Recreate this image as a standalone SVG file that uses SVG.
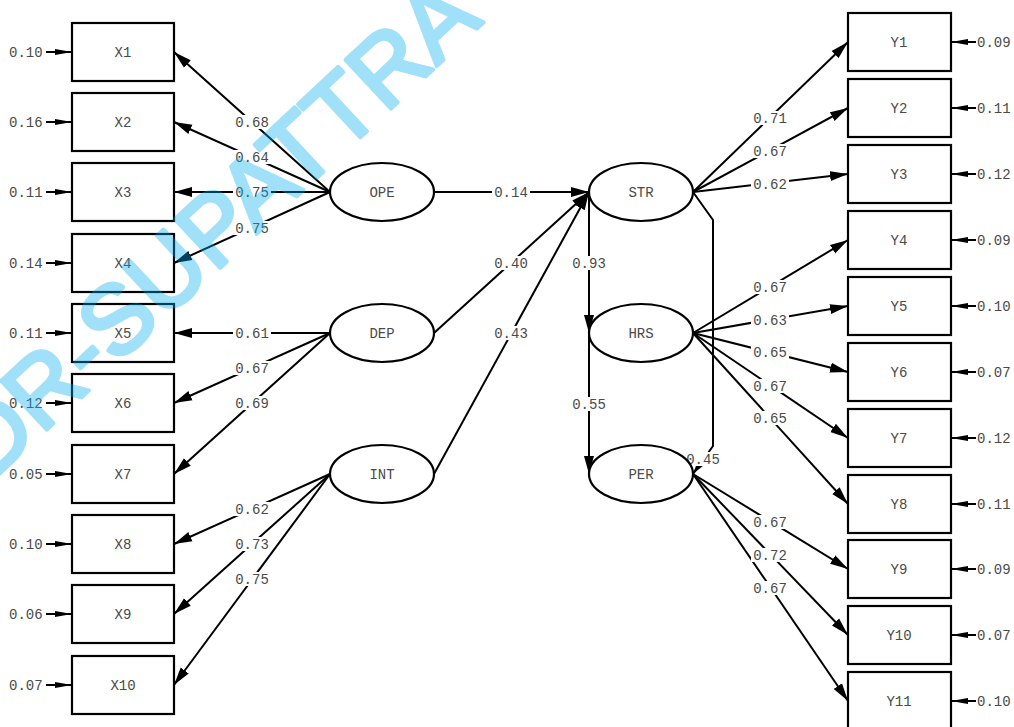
<svg xmlns="http://www.w3.org/2000/svg" width="1014" height="727" viewBox="0 0 1014 727">
  <style>
    .box { fill: #fff; stroke: #000; stroke-width: 2.2; }
    .lat { fill: #fff; stroke: #000; stroke-width: 2.2; }
    .name { font-family: "Liberation Mono", "DejaVu Sans Mono", monospace; font-size: 14px; fill: #4a4a4a; text-anchor: middle; }
    .val { font-family: "Liberation Mono", "DejaVu Sans Mono", monospace; font-size: 14px; fill: #4a4a4a; }
    .lbl { font-family: "Liberation Mono", "DejaVu Sans Mono", monospace; font-size: 14px; fill: #4a4a4a; text-anchor: middle; }
    .lbg { fill: #fff; }
    .path { fill: none; stroke: #000; stroke-width: 2; marker-end: url(#ah); }
    .err { fill: none; stroke: #000; stroke-width: 2; marker-end: url(#ae); }
    .wm { font-family: "Liberation Sans", Arial, sans-serif; font-size: 97px; fill: #00aeef; stroke: #00aeef; stroke-width: 4; stroke-linejoin: round; }
  </style>
  <defs>
    <marker id="ah" markerUnits="userSpaceOnUse" markerWidth="19" markerHeight="11" refX="18" refY="5.5" orient="auto">
      <path d="M0,0.5 L18,5.5 L0,10.5 z" fill="#000"/>
    </marker>
    <marker id="ae" markerUnits="userSpaceOnUse" markerWidth="18" markerHeight="8" refX="17" refY="4" orient="auto">
      <path d="M0,1 L17,4 L0,7 z" fill="#000"/>
    </marker>
  </defs>
  <rect width="1014" height="727" fill="#fff"/>

  <!-- paths and loadings -->
  <g id="connectors">
    <!-- OPE loadings -->
    <path class="path" d="M330,192 L174,52"/>
    <path class="path" d="M330,192 L174,122"/>
    <path class="path" d="M330,192 L174,192"/>
    <path class="path" d="M330,192 L174,263"/>
    <!-- DEP loadings -->
    <path class="path" d="M330,333 L174,333"/>
    <path class="path" d="M330,333 L174,403"/>
    <path class="path" d="M330,333 L174,474"/>
    <!-- INT loadings -->
    <path class="path" d="M330,474 L174,544"/>
    <path class="path" d="M330,474 L174,614"/>
    <path class="path" d="M330,474 L174,685"/>
    <!-- structural paths -->
    <path class="path" d="M434,192 L589,192"/>
    <path class="path" d="M434,333 L589,192"/>
    <path class="path" d="M434,474 L589,192"/>
    <path class="path" d="M589,192 L589,333"/>
    <path class="path" d="M589,333 L589,474"/>
    <path class="path" d="M693,192 L713,220 L713,446 L693,474"/>
    <!-- STR loadings -->
    <path class="path" d="M693,192 L848,42"/>
    <path class="path" d="M693,192 L848,108"/>
    <path class="path" d="M693,192 L848,174"/>
    <!-- HRS loadings -->
    <path class="path" d="M693,333 L848,240"/>
    <path class="path" d="M693,333 L848,306"/>
    <path class="path" d="M693,333 L848,372"/>
    <path class="path" d="M693,333 L848,438"/>
    <path class="path" d="M693,333 L848,504"/>
    <!-- PER loadings -->
    <path class="path" d="M693,474 L848,569"/>
    <path class="path" d="M693,474 L848,635"/>
    <path class="path" d="M693,474 L848,701"/>
    <!-- error terms, left -->
    <path class="err" d="M46,52 L72,52"/>
    <path class="err" d="M46,122 L72,122"/>
    <path class="err" d="M46,192 L72,192"/>
    <path class="err" d="M46,263 L72,263"/>
    <path class="err" d="M46,333 L72,333"/>
    <path class="err" d="M46,403 L72,403"/>
    <path class="err" d="M46,474 L72,474"/>
    <path class="err" d="M46,544 L72,544"/>
    <path class="err" d="M46,614 L72,614"/>
    <path class="err" d="M46,685 L72,685"/>
    <!-- error terms, right -->
    <path class="err" d="M976,42 L951,42"/>
    <path class="err" d="M976,108 L951,108"/>
    <path class="err" d="M976,174 L951,174"/>
    <path class="err" d="M976,240 L951,240"/>
    <path class="err" d="M976,306 L951,306"/>
    <path class="err" d="M976,372 L951,372"/>
    <path class="err" d="M976,438 L951,438"/>
    <path class="err" d="M976,504 L951,504"/>
    <path class="err" d="M976,569 L951,569"/>
    <path class="err" d="M976,635 L951,635"/>
    <path class="err" d="M976,701 L951,701"/>
  </g>

  <!-- coefficient labels, placed at each path's midpoint -->
  <g id="labels">
    <g class="lbg">
      <rect x="233" y="115" width="38" height="14"/>
      <rect x="233" y="150" width="38" height="14"/>
      <rect x="233" y="185" width="38" height="14"/>
      <rect x="233" y="221" width="38" height="14"/>
      <rect x="233" y="326" width="38" height="14"/>
      <rect x="233" y="361" width="38" height="14"/>
      <rect x="233" y="396" width="38" height="14"/>
      <rect x="233" y="502" width="38" height="14"/>
      <rect x="233" y="537" width="38" height="14"/>
      <rect x="233" y="572" width="38" height="14"/>
      <rect x="492" y="185" width="38" height="14"/>
      <rect x="492" y="256" width="38" height="14"/>
      <rect x="492" y="326" width="38" height="14"/>
      <rect x="570" y="256" width="38" height="14"/>
      <rect x="570" y="397" width="38" height="14"/>
      <rect x="684" y="452" width="38" height="14"/>
      <rect x="751" y="111" width="38" height="14"/>
      <rect x="751" y="144" width="38" height="14"/>
      <rect x="751" y="177" width="38" height="14"/>
      <rect x="751" y="280" width="38" height="14"/>
      <rect x="751" y="313" width="38" height="14"/>
      <rect x="751" y="345" width="38" height="14"/>
      <rect x="751" y="379" width="38" height="14"/>
      <rect x="751" y="411" width="38" height="14"/>
      <rect x="751" y="515" width="38" height="14"/>
      <rect x="751" y="548" width="38" height="14"/>
      <rect x="751" y="581" width="38" height="14"/>
    </g>
    <text class="lbl" x="252" y="127">0.68</text>
    <text class="lbl" x="252" y="162">0.64</text>
    <text class="lbl" x="252" y="197">0.75</text>
    <text class="lbl" x="252" y="233">0.75</text>
    <text class="lbl" x="252" y="338">0.61</text>
    <text class="lbl" x="252" y="373">0.67</text>
    <text class="lbl" x="252" y="408">0.69</text>
    <text class="lbl" x="252" y="514">0.62</text>
    <text class="lbl" x="252" y="549">0.73</text>
    <text class="lbl" x="252" y="584">0.75</text>
    <text class="lbl" x="511" y="197">0.14</text>
    <text class="lbl" x="511" y="268">0.40</text>
    <text class="lbl" x="511" y="338">0.43</text>
    <text class="lbl" x="589" y="268">0.93</text>
    <text class="lbl" x="589" y="409">0.55</text>
    <text class="lbl" x="703" y="464">0.45</text>
    <text class="lbl" x="770" y="123">0.71</text>
    <text class="lbl" x="770" y="156">0.67</text>
    <text class="lbl" x="770" y="189">0.62</text>
    <text class="lbl" x="770" y="292">0.67</text>
    <text class="lbl" x="770" y="325">0.63</text>
    <text class="lbl" x="770" y="357">0.65</text>
    <text class="lbl" x="770" y="391">0.67</text>
    <text class="lbl" x="770" y="423">0.65</text>
    <text class="lbl" x="770" y="527">0.67</text>
    <text class="lbl" x="770" y="560">0.72</text>
    <text class="lbl" x="770" y="593">0.67</text>
  </g>

  <!-- error variances -->
  <g id="errors">
    <text class="val" x="9" y="57">0.10</text>
    <text class="val" x="9" y="127">0.16</text>
    <text class="val" x="9" y="197">0.11</text>
    <text class="val" x="9" y="268">0.14</text>
    <text class="val" x="9" y="338">0.11</text>
    <text class="val" x="9" y="408">0.12</text>
    <text class="val" x="9" y="479">0.05</text>
    <text class="val" x="9" y="549">0.10</text>
    <text class="val" x="9" y="619">0.06</text>
    <text class="val" x="9" y="690">0.07</text>
    <text class="val" x="977" y="47">0.09</text>
    <text class="val" x="977" y="113">0.11</text>
    <text class="val" x="977" y="179">0.12</text>
    <text class="val" x="977" y="245">0.09</text>
    <text class="val" x="977" y="311">0.10</text>
    <text class="val" x="977" y="377">0.07</text>
    <text class="val" x="977" y="443">0.12</text>
    <text class="val" x="977" y="509">0.11</text>
    <text class="val" x="977" y="574">0.09</text>
    <text class="val" x="977" y="640">0.07</text>
    <text class="val" x="977" y="706">0.10</text>
  </g>

  <!-- observed indicators, left -->
  <g id="X1"><rect class="box" x="72" y="23" width="102" height="58"/><text class="name" x="123" y="57">X1</text></g>
  <g id="X2"><rect class="box" x="72" y="93" width="102" height="58"/><text class="name" x="123" y="127">X2</text></g>
  <g id="X3"><rect class="box" x="72" y="163" width="102" height="58"/><text class="name" x="123" y="197">X3</text></g>
  <g id="X4"><rect class="box" x="72" y="234" width="102" height="58"/><text class="name" x="123" y="268">X4</text></g>
  <g id="X5"><rect class="box" x="72" y="304" width="102" height="58"/><text class="name" x="123" y="338">X5</text></g>
  <g id="X6"><rect class="box" x="72" y="374" width="102" height="58"/><text class="name" x="123" y="408">X6</text></g>
  <g id="X7"><rect class="box" x="72" y="445" width="102" height="58"/><text class="name" x="123" y="479">X7</text></g>
  <g id="X8"><rect class="box" x="72" y="515" width="102" height="58"/><text class="name" x="123" y="549">X8</text></g>
  <g id="X9"><rect class="box" x="72" y="585" width="102" height="58"/><text class="name" x="123" y="619">X9</text></g>
  <g id="X10"><rect class="box" x="72" y="656" width="102" height="58"/><text class="name" x="123" y="690">X10</text></g>

  <!-- latent variables -->
  <g id="OPE"><ellipse class="lat" cx="382" cy="192" rx="52" ry="29"/><text class="name" x="382" y="197">OPE</text></g>
  <g id="DEP"><ellipse class="lat" cx="382" cy="333" rx="52" ry="29"/><text class="name" x="382" y="338">DEP</text></g>
  <g id="INT"><ellipse class="lat" cx="382" cy="474" rx="52" ry="29"/><text class="name" x="382" y="479">INT</text></g>
  <g id="STR"><ellipse class="lat" cx="641" cy="192" rx="52" ry="29"/><text class="name" x="641" y="197">STR</text></g>
  <g id="HRS"><ellipse class="lat" cx="641" cy="333" rx="52" ry="29"/><text class="name" x="641" y="338">HRS</text></g>
  <g id="PER"><ellipse class="lat" cx="641" cy="474" rx="52" ry="29"/><text class="name" x="641" y="479">PER</text></g>

  <!-- observed indicators, right -->
  <g id="Y1"><rect class="box" x="848" y="13" width="103" height="58"/><text class="name" x="899" y="47">Y1</text></g>
  <g id="Y2"><rect class="box" x="848" y="79" width="103" height="58"/><text class="name" x="899" y="113">Y2</text></g>
  <g id="Y3"><rect class="box" x="848" y="145" width="103" height="58"/><text class="name" x="899" y="179">Y3</text></g>
  <g id="Y4"><rect class="box" x="848" y="211" width="103" height="58"/><text class="name" x="899" y="245">Y4</text></g>
  <g id="Y5"><rect class="box" x="848" y="277" width="103" height="58"/><text class="name" x="899" y="311">Y5</text></g>
  <g id="Y6"><rect class="box" x="848" y="343" width="103" height="58"/><text class="name" x="899" y="377">Y6</text></g>
  <g id="Y7"><rect class="box" x="848" y="409" width="103" height="58"/><text class="name" x="899" y="443">Y7</text></g>
  <g id="Y8"><rect class="box" x="848" y="475" width="103" height="58"/><text class="name" x="899" y="509">Y8</text></g>
  <g id="Y9"><rect class="box" x="848" y="540" width="103" height="58"/><text class="name" x="899" y="574">Y9</text></g>
  <g id="Y10"><rect class="box" x="848" y="606" width="103" height="58"/><text class="name" x="899" y="640">Y10</text></g>
  <g id="Y11"><rect class="box" x="848" y="672" width="103" height="58"/><text class="name" x="899" y="706">Y11</text></g>

  <!-- watermark, translucent over the drawing -->
  <g opacity="0.37">
    <text class="wm" transform="translate(214,228) rotate(-43)" text-anchor="middle" dominant-baseline="central">DR-SUPATTRA</text>
  </g>
</svg>
